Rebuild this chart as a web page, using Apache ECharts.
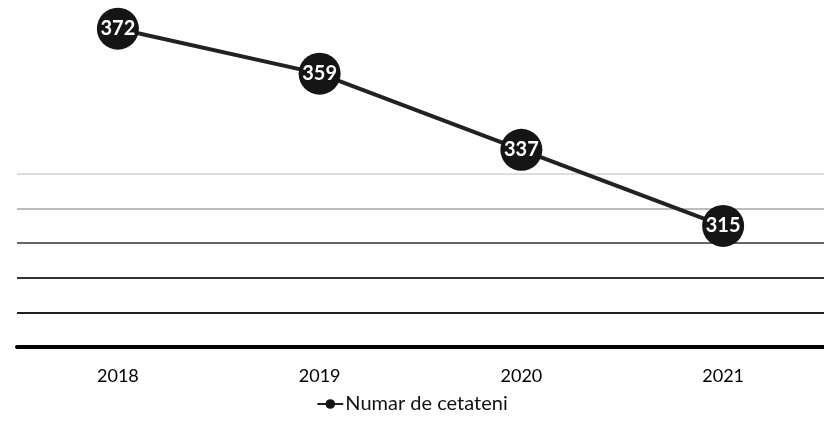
<!DOCTYPE html>
<html>
<head>
    <meta charset="UTF-8">
    <title>Numar de cetateni</title>
    <script src="https://cdn.jsdelivr.net/npm/echarts@6/dist/echarts.min.js"></script>
    <style>
        body { margin: 0; background: #fff; }
        #chart { width: 824px; height: 434px; }
    </style>
</head>
<body>
    <div id="chart"></div>
    <script type="text/javascript">
        // data
        var years = ['2018', '2019', '2020', '2021'];
        var cetateni = [372, 359, 337, 315];
        var seriesName = 'Numar de cetateni';

        // grid lines fade out towards the top, like the scan
        var gridColors = ['#111', '#222', '#333', '#666', '#bbb', '#ddd', '#fff', '#fff', '#fff', '#fff', '#fff'];

        var chart = echarts.init(document.getElementById('chart'));

        var option = {
            animation: false,
            textStyle: { fontFamily: 'Lato' },
            grid: { left: 17, right: -1, top: 1, bottom: 87 },
            legend: {
                bottom: 15,
                left: 'center',
                itemWidth: 26,
                itemHeight: 12,
                itemGap: 4,
                textStyle: { fontSize: 20, color: '#111', fontFamily: 'Lato', padding: [0, 0, 0, -3] },
                data: [seriesName]
            },
            xAxis: {
                type: 'category',
                data: years,
                boundaryGap: true,
                axisTick: { show: false },
                axisLine: { lineStyle: { color: '#000', width: 4 } },
                axisLabel: { fontSize: 18, color: '#000', margin: 20, fontFamily: 'Lato' }
            },
            yAxis: {
                type: 'value',
                min: 280,
                max: 380,
                interval: 10,
                axisLabel: { show: false },
                axisLine: { show: false },
                axisTick: { show: false },
                splitLine: { lineStyle: { color: gridColors, width: 2 } }
            },
            series: [
                {
                    name: seriesName,
                    type: 'line',
                    data: cetateni,
                    symbol: 'circle',
                    symbolSize: 42,
                    itemStyle: { color: '#151515' },
                    lineStyle: { color: '#222', width: 4 },
                    label: {
                        show: true,
                        position: 'inside',
                        color: '#fff',
                        fontSize: 20,
                        fontWeight: 'bold',
                        fontFamily: 'Lato'
                    }
                }
            ]
        };

        chart.setOption(option);
    </script>
</body>
</html>
